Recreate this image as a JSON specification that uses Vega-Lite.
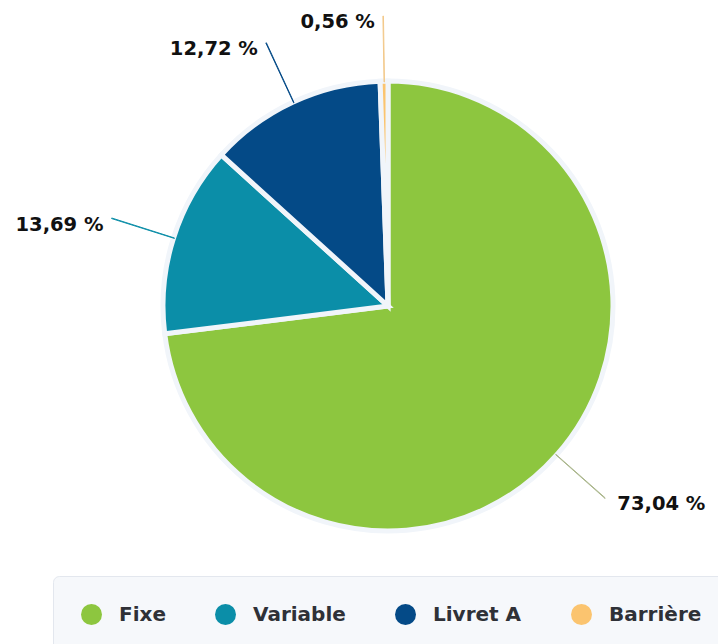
{
  "$schema": "https://vega.github.io/schema/vega-lite/v6.json",
  "width": 444,
  "height": 444,
  "autosize": {"type": "none"},
  "padding": {"left": 166, "top": 84, "right": 108, "bottom": 116},
  "background": "white",
  "config": {"view": {"stroke": null}, "font": "DejaVu Sans"},
  "data": {
    "values": [
      {"cat": "Fixe", "value": 73.04},
      {"cat": "Variable", "value": 13.69},
      {"cat": "Livret A", "value": 12.72},
      {"cat": "Barrière", "value": 0.56}
    ]
  },
  "transform": [
    {"window": [{"op": "sum", "field": "value", "as": "cum"}], "sort": [{"field": "value", "order": "descending"}], "frame": [null, 0]},
    {"calculate": "datum.cum - datum.value / 2", "as": "mid"},
    {"calculate": "datum.mid + 0.03", "as": "mid2"},
    {"calculate": "replace(format(datum.value, '.2f'), '.', ',') + ' %'", "as": "label"}
  ],
  "layer": [
    {
      "mark": {"type": "arc", "outerRadius": 225, "stroke": "#f1f5fa", "strokeWidth": 5},
      "encoding": {
        "theta": {"field": "value", "type": "quantitative", "stack": true, "scale": {"domain": [0, 100.01]}},
        "order": {"field": "value", "sort": "descending"},
        "color": {
          "field": "cat",
          "type": "nominal",
          "scale": {"domain": ["Fixe", "Variable", "Livret A", "Barrière"], "range": ["#8dc63f", "#0b8ea8", "#044a87", "#fbc46f"]},
          "legend": {
            "orient": "none",
            "legendX": -113,
            "legendY": 492,
            "direction": "horizontal",
            "title": null,
            "symbolType": "circle",
            "symbolSize": 440,
            "symbolStrokeWidth": 0,
            "labelFont": "DejaVu Sans",
            "labelFontWeight": "bold",
            "labelFontSize": 20,
            "labelColor": "#2f3137",
            "labelOffset": 17,
            "labelLimit": 300,
            "columnPadding": 49,
            "padding": 28,
            "fillColor": "#f6f8fb",
            "strokeColor": "#e3e7ee",
            "cornerRadius": 6
          }
        }
      }
    },
    {
      "mark": {"type": "arc", "radius": 224, "radius2": 290, "filled": false, "strokeWidth": 1},
      "encoding": {
        "theta": {"field": "mid", "type": "quantitative", "stack": null},
        "theta2": {"field": "mid2"},
        "stroke": {
          "field": "cat",
          "type": "nominal",
          "scale": {"domain": ["Fixe", "Variable", "Livret A", "Barrière"], "range": ["#a9b58a", "#0b8ea8", "#044a87", "#f3c98a"]},
          "legend": null
        }
      }
    },
    {
      "transform": [{"filter": "datum.mid > 50"}],
      "mark": {"type": "text", "radius": 290, "align": "right", "baseline": "middle", "dx": -8, "dy": 6, "font": "DejaVu Sans", "fontWeight": "bold", "fontSize": 19.5, "fill": "#111111"},
      "encoding": {
        "theta": {"field": "mid", "type": "quantitative", "stack": null},
        "text": {"field": "label", "type": "nominal"}
      }
    },
    {
      "transform": [{"filter": "datum.mid <= 50"}],
      "mark": {"type": "text", "radius": 290, "align": "left", "baseline": "middle", "dx": 12, "dy": 6, "font": "DejaVu Sans", "fontWeight": "bold", "fontSize": 19.5, "fill": "#111111"},
      "encoding": {
        "theta": {"field": "mid", "type": "quantitative", "stack": null},
        "text": {"field": "label", "type": "nominal"}
      }
    }
  ]
}
